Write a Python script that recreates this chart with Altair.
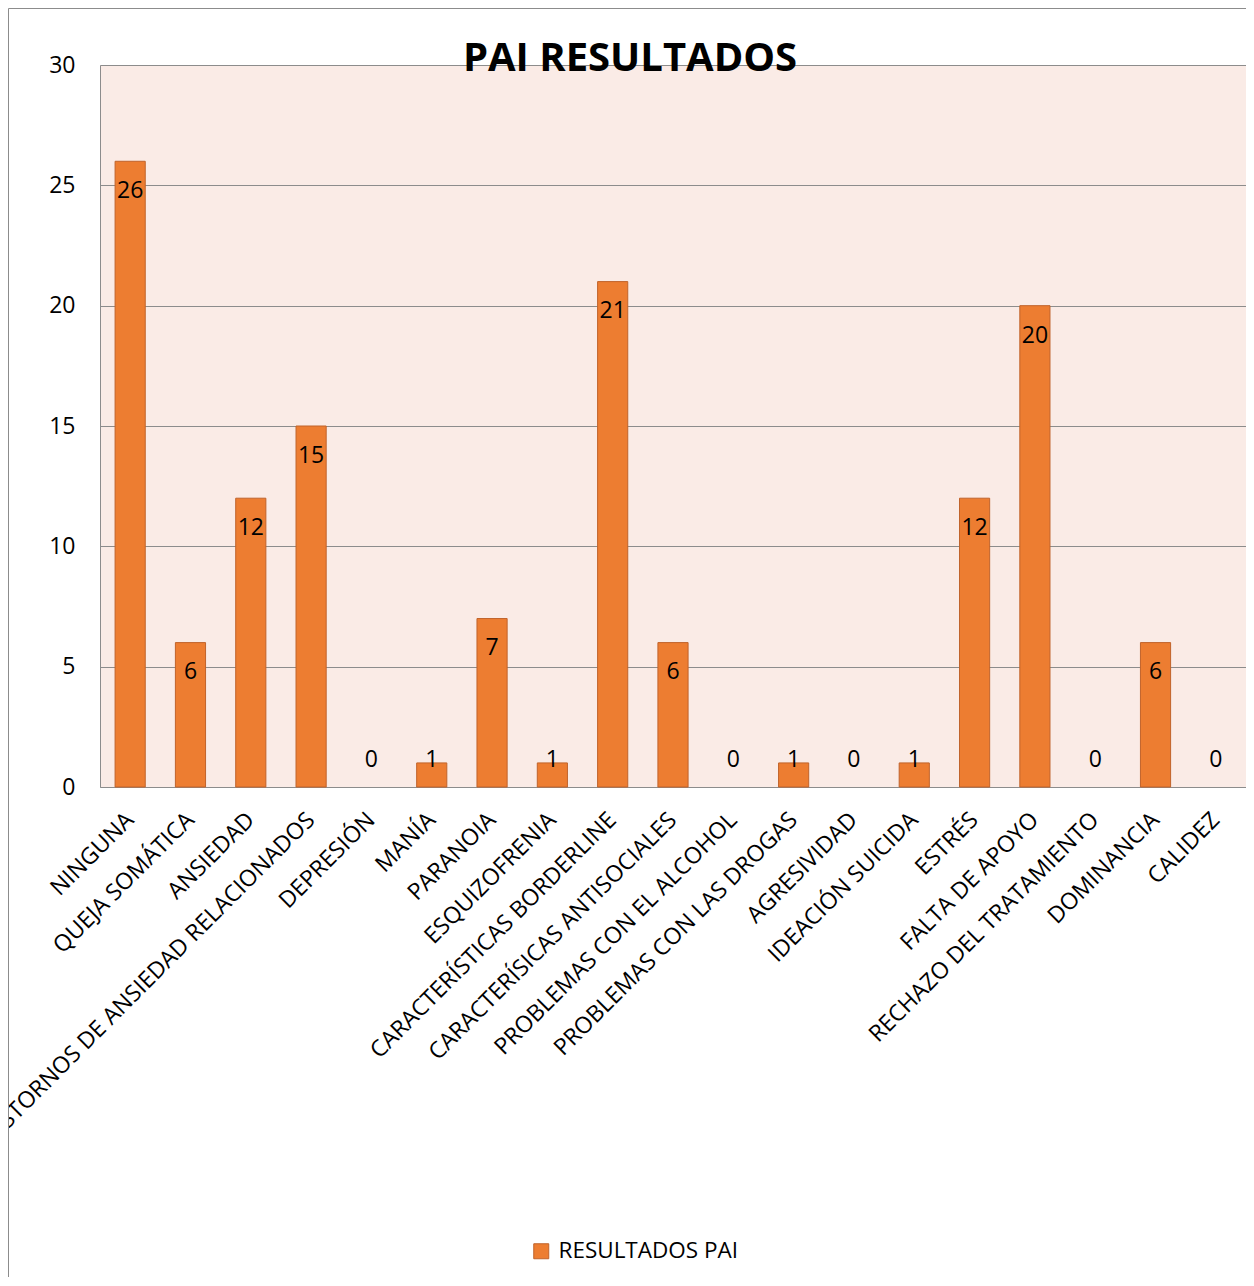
import altair as alt
import pandas as pd

categories = [
    "NINGUNA", "QUEJA SOMÁTICA", "ANSIEDAD", "TRASTORNOS DE ANSIEDAD RELACIONADOS",
    "DEPRESIÓN", "MANÍA", "PARANOIA", "ESQUIZOFRENIA", "CARACTERÍSTICAS BORDERLINE",
    "CARACTERÍSICAS ANTISOCIALES", "PROBLEMAS CON EL ALCOHOL", "PROBLEMAS CON LAS DROGAS",
    "AGRESIVIDAD", "IDEACIÓN SUICIDA", "ESTRÉS", "FALTA DE APOYO",
    "RECHAZO DEL TRATAMIENTO", "DOMINANCIA", "CALIDEZ",
]
values = [26, 6, 12, 15, 0, 1, 7, 1, 21, 6, 0, 1, 0, 1, 12, 20, 0, 6, 0]
series_name = "RESULTADOS PAI"
chart_title = "PAI RESULTADOS"

FONT = "Open Sans"
df = pd.DataFrame({"cat": categories, "v": values, "serie": [series_name] * len(values)})

x_scale = alt.Scale(domain=categories, paddingInner=0.5, paddingOuter=0.25)
x_enc = alt.X(
    "cat:N", title=None, scale=x_scale,
    axis=alt.Axis(labelAngle=-45, labelAlign="right", labelBaseline="middle",
                  labelPadding=29, ticks=False, domainColor="#8c8c8c",
                  labelFont=FONT, labelFontSize=23, labelColor="black",
                  labelOverlap=False, labelLimit=0, grid=False),
)
y_enc = alt.Y(
    "v:Q", title=None,
    scale=alt.Scale(domain=[0, 30], nice=False),
    axis=alt.Axis(values=[0, 5, 10, 15, 20, 25, 30], ticks=False, domainColor="#8c8c8c",
                  labelFont=FONT, labelFontSize=23, labelColor="black", labelPadding=25,
                  gridColor="#8c8c8c", gridWidth=1),
)

bars = alt.Chart(df).transform_filter("datum.v > 0").mark_bar(
    stroke="#c0632b", strokeWidth=1
).encode(
    x=x_enc,
    y=y_enc,
    color=alt.Color(
        "serie:N",
        scale=alt.Scale(domain=[series_name], range=["#ed7d31"]),
        legend=alt.Legend(title=None, orient="none", legendX=430, legendY=1175,
                          symbolType="square", symbolSize=225,
                          symbolStrokeColor="#c0632b", symbolStrokeWidth=1,
                          labelFont=FONT, labelFontSize=22.5, labelColor="black",
                          labelLimit=0, padding=0, labelOffset=6),
    ),
)

labels = alt.Chart(df).transform_calculate(
    ly="max(datum.v - 1.24, 1.12)"
).mark_text(font=FONT, fontSize=23, color="black", baseline="middle").encode(
    x=alt.X("cat:N", scale=x_scale),
    y=alt.Y("ly:Q"),
    text=alt.Text("v:Q"),
)

title_df = pd.DataFrame({"t": [chart_title]})
title = alt.Chart(title_df).mark_text(
    font=FONT, fontSize=40, fontWeight="bold", color="black",
    align="center", baseline="alphabetic",
).encode(x=alt.value(530), y=alt.value(6), text="t:N")

dummy = pd.DataFrame({"d": [0]})
border_left = alt.Chart(dummy).mark_rule(color="#8c8c8c", strokeWidth=1, clip=False).encode(
    x=alt.value(-91.5), y=alt.value(-56.5), y2=alt.value(1300)
)
border_top = alt.Chart(dummy).mark_rule(color="#8c8c8c", strokeWidth=1, clip=False).encode(
    x=alt.value(-91.5), x2=alt.value(1200), y=alt.value(-56.5)
)

chart = alt.layer(bars, labels, title, border_left, border_top).properties(
    width=1146, height=722,
    autosize=alt.AutoSizeParams(type="none"),
    padding={"left": 92, "top": 57, "right": 0, "bottom": 490},
).configure_view(
    fill="#faebe6", stroke=None,
)

chart.save("out.html", embed_options={"renderer": "svg", "actions": False})
